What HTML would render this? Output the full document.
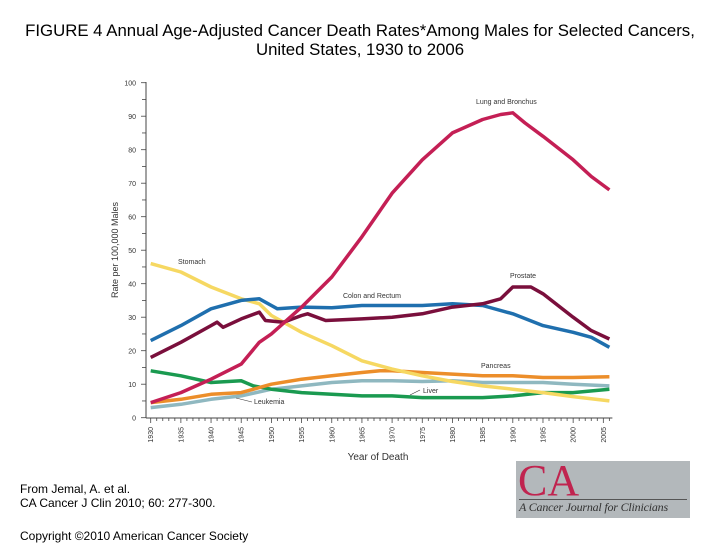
<!DOCTYPE html>
<html><head><meta charset="utf-8"><style>
body{margin:0;background:#fff;width:720px;height:540px;overflow:hidden;position:relative;font-family:"Liberation Sans",sans-serif}
.t{position:absolute;left:0;width:720px;text-align:center;font-size:16.8px;color:#000;line-height:19px;top:21px;white-space:nowrap}
.f{position:absolute;left:20px;font-size:12px;color:#000}
</style></head><body>
<div class="t">FIGURE 4 Annual Age-Adjusted Cancer Death Rates*Among Males for Selected Cancers,<br>United States, 1930 to 2006</div>
<div class="f" style="top:482px;line-height:14px">From Jemal, A. et al.<br>CA Cancer J Clin 2010; 60: 277-300.</div>
<div class="f" style="top:529px">Copyright ©2010 American Cancer Society</div>
<div style="position:absolute;left:516px;top:461px;width:174px;height:57px;background:#b3b8bb;overflow:hidden">
<div style="position:absolute;left:2px;top:-6px;font-family:'Liberation Serif',serif;font-size:44px;color:#c0244f">CA</div>
<div style="position:absolute;left:3px;top:38px;font-family:'Liberation Serif',serif;font-style:italic;font-size:12px;color:#333;border-top:1px solid #555;width:168px;white-space:nowrap;letter-spacing:-0.2px">A Cancer Journal for Clinicians</div></div>
<svg id="c" width="720" height="540" style="position:absolute;left:0;top:0"></svg>
<script>
const lungYears=[1930,1935,1940,1945,1948,1950,1955,1960,1965,1970,1975,1980,1985,1988,1990,1992,1995,2000,2003,2006];
const lungVals=[4.5,7.5,11.5,16,22.5,25,33,42,54,67,77,85,89,90.5,91,88,84,77,72,68];
const prostateYears=[1930,1935,1940,1941,1942,1945,1948,1949,1952,1955,1956,1959,1965,1970,1975,1980,1985,1988,1990,1993,1995,2000,2003,2006];
const prostateVals=[18,22.5,27.5,28.5,27,29.5,31.5,29,28.5,30.5,31,29,29.5,30,31,33,34,35.5,39,39,37,30,26,23.5];
const colonYears=[1930,1935,1940,1945,1948,1950,1951,1955,1960,1965,1970,1975,1980,1985,1990,1995,2000,2003,2006];
const colonVals=[23,27.5,32.5,35,35.5,33.5,32.5,33,32.8,33.5,33.5,33.5,34,33.5,31,27.5,25.5,24,21];
const stomachYears=[1930,1935,1940,1945,1948,1950,1955,1960,1965,1970,1975,1980,1985,1990,1995,2000,2006];
const stomachVals=[46,43.5,39,35.5,34,30.5,25.5,21.5,17,14.5,12.5,10.8,9.5,8.5,7.5,6.3,5];
const pancreasYears=[1930,1935,1940,1945,1950,1955,1960,1965,1968,1970,1975,1980,1985,1990,1995,2000,2006];
const pancreasVals=[4.5,5.5,7,7.5,10,11.5,12.5,13.5,14,14,13.5,13,12.5,12.5,12,12,12.2];
const leukemiaYears=[1930,1935,1940,1945,1950,1955,1960,1965,1970,1975,1980,1985,1990,1995,2000,2006];
const leukemiaVals=[3,4,5.5,6.5,8.5,9.5,10.5,11,11,10.8,11,10.5,10.5,10.5,10,9.5];
const liverYears=[1930,1935,1940,1945,1947,1950,1955,1960,1965,1970,1975,1980,1985,1990,1995,2000,2006];
const liverVals=[14,12.5,10.5,11,9.5,8.5,7.5,7,6.5,6.5,6,6,6,6.5,7.5,7.5,8.5];
const yTicks=[0,10,20,30,40,50,60,70,80,90,100];
const xTicks=[1930,1935,1940,1945,1950,1955,1960,1965,1970,1975,1980,1985,1990,1995,2000,2005];
const X=y=>150.7+(y-1930)*6.035, Y=v=>417.7-v*3.35;
const s=document.getElementById('c'),NS='http://www.w3.org/2000/svg';
function mk(t,a,txt){const e=document.createElementNS(NS,t);for(const k in a)e.setAttribute(k,a[k]);if(txt!=null)e.textContent=txt;s.appendChild(e);return e;}
let e=mk('line',{x1:146,y1:82,x2:146,y2:418,stroke:'#444','stroke-width':1});

e=mk('line',{x1:146,y1:418,x2:X(2006.5),y2:418,stroke:'#444','stroke-width':1});

for(let v=0;v<=100;v+=5){mk('line',{x1:v%10?142:141,y1:Y(v),x2:146,y2:Y(v),stroke:'#444','stroke-width':0.8});}
yTicks.forEach(v=>{e=mk('text',{x:136,y:Y(v)+3,'font-size':7,'text-anchor':'end',fill:'#333'},v);
});
for(let y=1930;y<=2006;y++){mk('line',{x1:X(y),y1:418,x2:X(y),y2:y%5?421:423,stroke:'#444','stroke-width':0.8});}
xTicks.forEach(y=>{e=mk('text',{x:X(y)+2.5,y:427,'font-size':7,'text-anchor':'end',fill:'#333',transform:`rotate(-90 ${X(y)+2.5} 427)`},y);
});
e=mk('text',{x:378,y:460,'font-size':10,'text-anchor':'middle',fill:'#333'},'Year of Death');

e=mk('text',{x:118,y:250,'font-size':9,'text-anchor':'middle',fill:'#333',transform:'rotate(-90 118 250)'},'Rate per 100,000 Males');

const series=[['leukemia',leukemiaYears,leukemiaVals,'#8fb8c0'],['liver',liverYears,liverVals,'#1a9a50'],['pancreas',pancreasYears,pancreasVals,'#ec8e2a'],['stomach',stomachYears,stomachVals,'#f6d862'],['colon-rectum',colonYears,colonVals,'#1f6fae'],['prostate',prostateYears,prostateVals,'#7a0f3c'],['lung-bronchus',lungYears,lungVals,'#c41f55']];
series.forEach(([n,ys,vs,c])=>{const d=ys.map((y,i)=>(i?'L':'M')+X(y).toFixed(1)+','+Y(vs[i]).toFixed(1)).join('');
e=mk('path',{d:d,fill:'none',stroke:c,'stroke-width':3.5,'stroke-linejoin':'round'});
});
[['Lung and Bronchus',476,104],['Stomach',178,264],['Prostate',510,278],['Colon and Rectum',343,298],['Pancreas',481,368],['Liver',423,393],['Leukemia',254,404]].forEach(([t,x,y])=>{
e=mk('text',{x:x,y:y,'font-size':7,fill:'#333'},t);});
mk('line',{x1:410,y1:395,x2:420,y2:390,stroke:'#333','stroke-width':0.6});
mk('line',{x1:236,y1:398,x2:252,y2:402,stroke:'#333','stroke-width':0.6});
</script>
</body></html>
